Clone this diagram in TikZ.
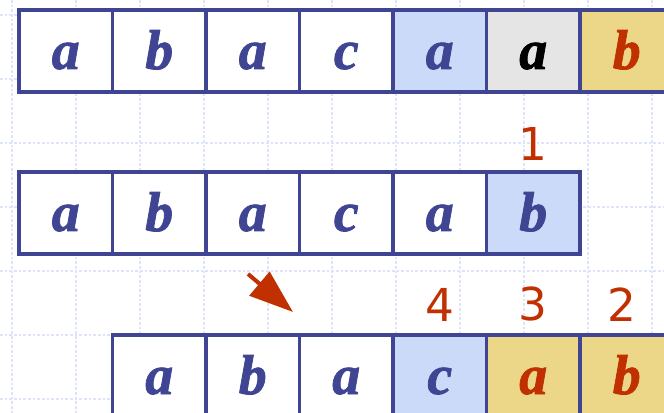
\documentclass[tikz,border=0pt]{standalone}
\usepackage{fontspec}
\setmainfont{Liberation Serif}
\newfontfamily\numfont{DejaVu Sans}
\newfontfamily\cellfont[FakeBold=1.4]{Liberation Serif Bold Italic}
\usetikzlibrary{arrows.meta,positioning}
\definecolor{cellblue}{HTML}{3F4592}
\definecolor{hlblue}{HTML}{CCDAFA}
\definecolor{hlgrey}{HTML}{E5E5E5}
\definecolor{hlgold}{HTML}{EBD787}
\definecolor{markred}{HTML}{C03000}
\definecolor{gridblue}{HTML}{DDE4FA}

\begin{document}
\begin{tikzpicture}[x=0.75pt,y=-0.75pt,
  gridline/.style={gridblue,line width=0.8pt,dash pattern=on 2pt off 1.5pt},
  cell/.style={draw=cellblue,line width=2.6pt,minimum width=70.1pt,minimum height=61.5pt,
    inner sep=0pt,text height=27pt,text depth=0pt,text=cellblue,
    font=\cellfont\fontsize{42}{42}\selectfont},
  emptycell/.style={fill=white},
  bluecell/.style={fill=hlblue},
  greycell/.style={fill=hlgrey,text=black},
  goldcell/.style={fill=hlgold,text=markred},
  numlbl/.style={text=markred,inner sep=0pt,font=\numfont\fontsize{34}{34}\selectfont}]
\useasboundingbox (0,0) rectangle (664,413);
\clip (0,0) rectangle (664,413);
% background grid
\foreach \gx in {12,76,...,652} \draw[gridline] (\gx,0) -- (\gx,413);
\foreach \gy in {15,79,...,399} \draw[gridline] (0,\gy) -- (664,\gy);
% text
\foreach \ch/\sty [count=\i] in {a/emptycell,b/emptycell,a/emptycell,c/emptycell,a/bluecell,a/greycell,b/goldcell}
  \node[cell,\sty] (txt\i) at ({65.75+93.5*(\i-1)},51) {\ch};
% pattern, first try
\foreach \ch/\sty [count=\i] in {a/emptycell,b/emptycell,a/emptycell,c/emptycell,a/emptycell,b/bluecell}
  \node[cell,\sty] (pa\i) at ({65.75+93.5*(\i-1)},213) {\ch};
% pattern, shifted
\foreach \ch/\sty [count=\i] in {a/emptycell,b/emptycell,a/emptycell,c/bluecell,a/goldcell,b/goldcell}
  \node[cell,\sty] (pb\i) at ({159.25+93.5*(\i-1)},376) {\ch};
% comparison order
\node[numlbl,above=7pt of pa6] (n1) {1};
\node[numlbl,above=9pt of pb6,xshift=-3.5pt] (n2) {2};
\node[numlbl,above=9pt of pb5] (n3) {3};
\node[numlbl,above=9pt of pb4] (n4) {4};
% shift arrow
\coordinate (arrtail) at (248,274);
\coordinate (arrtip) at (293,312);
\draw[markred,line width=3pt,-{Triangle[length=33pt,width=23pt]}] (arrtail) -- (arrtip);
\end{tikzpicture}
\end{document}
